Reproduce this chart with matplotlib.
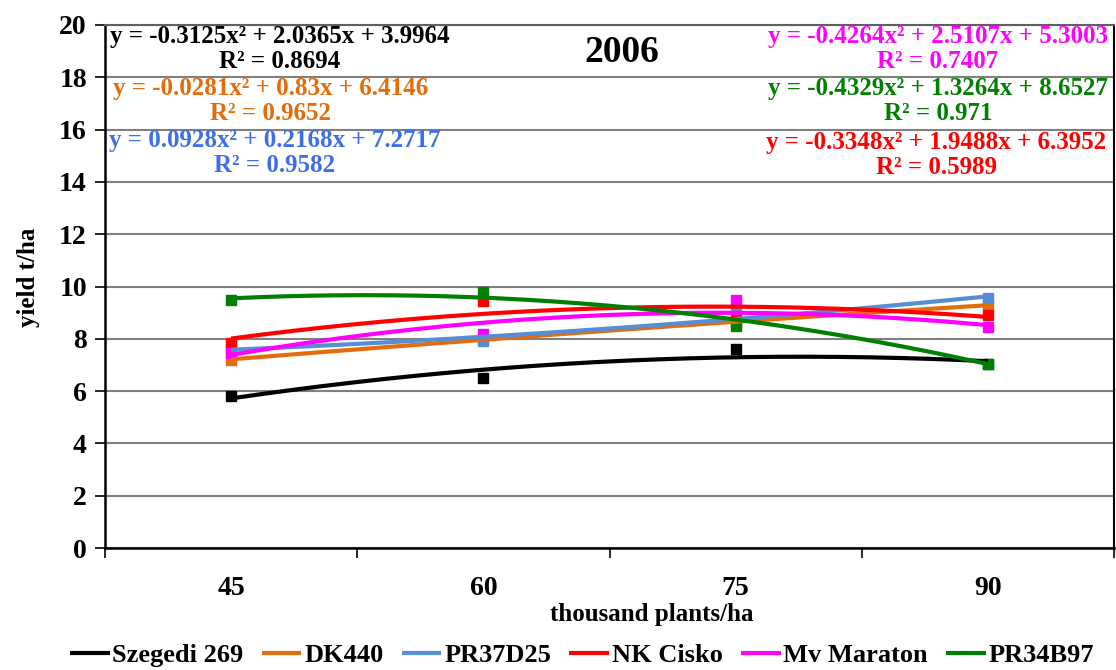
import numpy as np
import matplotlib
matplotlib.use("Agg")
import matplotlib.pyplot as plt

plt.rcParams['font.family'] = ['Liberation Serif', 'DejaVu Serif']
plt.rcParams['font.weight'] = 'bold'

# ============================
#   DATA
# ============================
densidade = ["45", "60", "75", "90"]
hibridos = ["Szegedi 269", "DK440", "PR37D25", "NK Cisko", "Mv Maraton", "PR34B97"]
cores = ["#000000", "#E46C0A", "#558ED5", "#FF0000", "#FF00FF", "#008000"]
cores_txt = ["#000000", "#E46C0A", "#3F6FE8", "#FF0000", "#FF00FF", "#008000"]

szegedi = [5.8, 6.5, 7.6, 7.05]
dk440 = [7.2, 8.0, 8.6, 9.3]
pr37d25 = [7.6, 7.9, 9.0, 9.55]
nk_cisko = [7.85, 9.45, 8.85, 8.9]
mv_maraton = [7.45, 8.2, 9.5, 8.45]
pr34b97 = [9.5, 9.8, 8.5, 7.05]
valores = [szegedi, dk440, pr37d25, nk_cisko, mv_maraton, pr34b97]

# coeficientes das linhas de tendencia (a, b, c) e R²
coef = [
    [-0.3125, 2.0365, 3.9964],
    [-0.0281, 0.83, 6.4146],
    [0.0928, 0.2168, 7.2717],
    [-0.3348, 1.9488, 6.3952],
    [-0.4264, 2.5107, 5.3003],
    [-0.4329, 1.3264, 8.6527],
]
r2 = ["0.8694", "0.9652", "0.9582", "0.5989", "0.7407", "0.971"]

# ============================
#   GRÁFICO
# ============================
W, H = 1116, 670
fig = plt.figure(figsize=(W / 100, H / 100), dpi=100)
ax = fig.add_axes([105 / W, 1 - 548 / H, (1114 - 105) / W, (548 - 25) / H])

x = np.arange(1, len(densidade) + 1)
xs = np.linspace(1, 4, 200)

for nome, cor, v in zip(hibridos, cores, valores):
    ax.plot(x, v, linestyle='none', marker='s', markersize=7, color=cor, zorder=3)

for nome, cor, c in zip(hibridos, cores, coef):
    ax.plot(xs, np.polyval(c, xs), color=cor, lw=3, label=nome, zorder=4,
            solid_capstyle='butt')

ax.set_xlim(0.5, 4.5)
ax.set_ylim(0, 20)
ax.set_yticks(range(0, 21, 2))
ax.set_xticks(np.arange(0.5, 4.6, 1))
ax.set_xticklabels([])
ax.set_xticks(x, minor=True)
ax.set_xticklabels(densidade, minor=True, fontsize=20, fontweight='bold')
ax.tick_params(axis='x', which='minor', length=0, pad=20)
ax.tick_params(axis='x', which='major', length=7, width=1.2, direction='out')
ax.tick_params(axis='y', length=7, width=1.2, direction='out', labelsize=20, pad=6)
for lbl in ax.get_yticklabels():
    lbl.set_fontweight('bold')

ax.grid(axis='y', color='#808080', lw=1.5)
ax.set_axisbelow(True)
for s in ['left', 'bottom']:
    ax.spines[s].set_linewidth(1.8)
    ax.spines[s].set_color('black')
ax.spines['top'].set_color('#606060')
ax.spines['top'].set_linewidth(1.5)
ax.spines['right'].set_color('black')
ax.spines['right'].set_linewidth(1.5)

fig.text(28 / W, 1 - 277 / H, "yield t/ha", rotation=90, ha='center', va='center',
         fontsize=18, fontweight='bold')
fig.text(652 / W, 1 - 614 / H, "thousand plants/ha", ha='center', va='center',
         fontsize=18, fontweight='bold')
fig.text(622 / W, 1 - 52 / H, "2006", ha='center', va='center',
         fontsize=27, fontweight='bold')

# equações
pos = [(280, 37), (271, 89), (275, 141), (936, 143), (938, 37), (938, 89)]
for cor, c, r, (px, py) in zip(cores_txt, coef, r2, pos):
    a, b, k = c
    eq = f"y = {a:g}x² + {b:g}x + {k:g}"
    fig.text(px / W, 1 - py / H, eq, ha='center', va='center', color=cor,
             fontsize=18, fontweight='bold')
    fig.text(px / W, 1 - (py + 25) / H, f"R² = {r}", ha='center', va='center',
             color=cor, fontsize=18, fontweight='bold')

leg = fig.legend(loc='center', bbox_to_anchor=(582 / W, 1 - 655 / H), ncol=6,
                 frameon=False, handlelength=1.5, handletextpad=0.1,
                 columnspacing=0.7, prop={'weight': 'bold', 'size': 19})

fig.savefig("out.png", dpi=100)
